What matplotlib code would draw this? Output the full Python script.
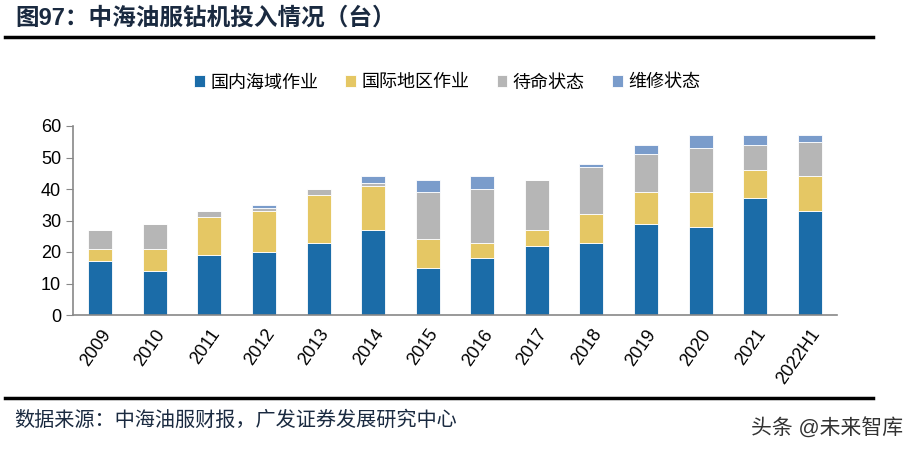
import matplotlib
matplotlib.use("Agg")
import matplotlib.pyplot as plt
import numpy as np

plt.rcParams['font.family'] = ['Liberation Sans', 'Noto Sans CJK SC', 'DejaVu Sans']

years = ['2009', '2010', '2011', '2012', '2013', '2014', '2015', '2016',
         '2017', '2018', '2019', '2020', '2021', '2022H1']
domestic = [17, 14, 19, 20, 23, 27, 15, 18, 22, 23, 29, 28, 37, 33]
overseas = [4, 7, 12, 13, 15, 14, 9, 5, 5, 9, 10, 11, 9, 11]
standby = [6, 8, 2, 1, 2, 1, 15, 17, 16, 15, 12, 14, 8, 11]
repair = [0, 0, 0, 1, 0, 2, 4, 4, 0, 1, 3, 4, 3, 2]

series_names = ['国内海域作业', '国际地区作业', '待命状态', '维修状态']
colors = ['#1B6CA8', '#E5C764', '#B6B6B6', '#7A9CCB']

fig = plt.figure(figsize=(9.05, 4.5), dpi=100)
ax = fig.add_axes([73 / 905, 1 - 315 / 450, (837 - 73) / 905, (315 - 126) / 450])

x = np.arange(len(years))
bottom = np.zeros(len(years))
for vals, name, c in zip([domestic, overseas, standby, repair], series_names, colors):
    ax.bar(x, vals, 0.44, bottom=bottom, color=c, label=name,
           edgecolor='white', linewidth=0.6)
    bottom += np.array(vals)

ax.set_xlim(-0.5, len(years) - 0.5)
ax.set_ylim(0, 60)
ax.set_yticks(range(0, 61, 10))
ax.set_xticks(x)
ax.set_xticklabels(years, rotation=55, ha='right', rotation_mode='anchor', fontsize=13)
ax.tick_params(axis='y', labelsize=13, length=5, color='#888888', direction='out')
ax.tick_params(axis='x', length=0, pad=8)
for s in ['top', 'right']:
    ax.spines[s].set_visible(False)
for s in ['left', 'bottom']:
    ax.spines[s].set_color('#888888')
    ax.spines[s].set_linewidth(1.2)

ax.legend(loc='center', bbox_to_anchor=(447 / 905, 1 - 83 / 450), bbox_transform=fig.transFigure,
          ncol=4, frameon=False, fontsize=13, handlelength=0.6, handleheight=0.6,
          handletextpad=0.3, columnspacing=1.5)

fig.text(15 / 905, 1 - 18 / 450, '图97：中海油服钻机投入情况（台）', fontsize=17, fontweight='bold',
         color='#1a2a40', va='center', ha='left')
fig.add_artist(plt.Line2D([5 / 905, 873 / 905], [1 - 37 / 450, 1 - 37 / 450], color='black', lw=2.5))
fig.add_artist(plt.Line2D([5 / 905, 873 / 905], [1 - 398 / 450, 1 - 398 / 450], color='black', lw=2.5))
fig.text(14 / 905, 1 - 420 / 450, '数据来源：中海油服财报，广发证券发展研究中心', fontsize=14.5,
         color='#1a2a40', va='center', ha='left')
fig.text(903 / 905, 1 - 428 / 450, '头条 @未来智库', fontsize=15, color='#333333',
         va='center', ha='right')

fig.savefig('out.png', dpi=100)
